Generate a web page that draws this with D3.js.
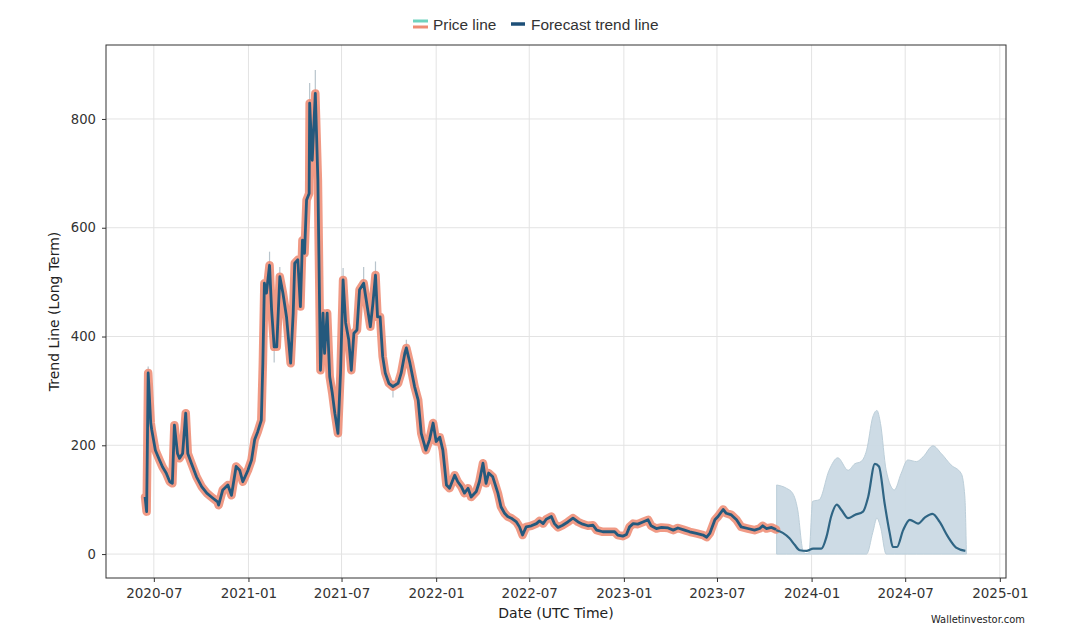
<!DOCTYPE html>
<html>
<head>
<meta charset="utf-8">
<script src="https://cdn.jsdelivr.net/npm/d3@7"></script>
<style>
  html, body { margin: 0; padding: 0; background: #fff; }
  svg { display: block; font-family: "DejaVu Sans", sans-serif; }
</style>
</head>
<body>
<svg id="chart" width="1066" height="634"></svg>
<script>
// ---------- DATA ----------
const priceDates = ["2020-06-14","2020-06-17","2020-06-20","2020-06-25","2020-06-27","2020-07-04","2020-07-12","2020-07-18","2020-07-25","2020-08-01","2020-08-06","2020-08-10","2020-08-16","2020-08-20","2020-08-26","2020-09-01","2020-09-05","2020-09-12","2020-09-22","2020-10-02","2020-10-12","2020-10-21","2020-11-02","2020-11-04","2020-11-12","2020-11-22","2020-11-29","2020-12-08","2020-12-15","2020-12-21","2020-12-31","2021-01-07","2021-01-13","2021-01-19","2021-01-26","2021-01-29","2021-02-01","2021-02-05","2021-02-11","2021-02-15","2021-02-20","2021-02-25","2021-03-03","2021-03-09","2021-03-16","2021-03-24","2021-03-29","2021-04-01","2021-04-07","2021-04-12","2021-04-16","2021-04-20","2021-04-24","2021-04-29","2021-04-30","2021-05-05","2021-05-11","2021-05-16","2021-05-21","2021-05-26","2021-05-29","2021-06-03","2021-06-08","2021-06-13","2021-06-18","2021-06-24","2021-06-29","2021-07-04","2021-07-09","2021-07-15","2021-07-20","2021-07-25","2021-07-31","2021-08-05","2021-08-13","2021-08-18","2021-08-26","2021-08-31","2021-09-05","2021-09-09","2021-09-14","2021-09-19","2021-09-24","2021-10-01","2021-10-09","2021-10-19","2021-10-25","2021-11-01","2021-11-04","2021-11-11","2021-11-20","2021-11-27","2021-12-03","2021-12-12","2021-12-19","2021-12-26","2022-01-01","2022-01-08","2022-01-14","2022-01-21","2022-01-27","2022-02-06","2022-02-12","2022-02-19","2022-02-25","2022-03-04","2022-03-10","2022-03-20","2022-03-26","2022-04-02","2022-04-08","2022-04-13","2022-04-21","2022-05-01","2022-05-07","2022-05-14","2022-05-20","2022-05-27","2022-06-06","2022-06-12","2022-06-18","2022-06-25","2022-07-05","2022-07-15","2022-07-21","2022-07-28","2022-08-03","2022-08-13","2022-08-19","2022-08-26","2022-09-04","2022-09-14","2022-09-24","2022-10-04","2022-10-13","2022-10-23","2022-11-02","2022-11-09","2022-11-21","2022-12-04","2022-12-14","2022-12-20","2022-12-30","2023-01-06","2023-01-12","2023-01-19","2023-01-28","2023-02-07","2023-02-17","2023-02-23","2023-03-05","2023-03-15","2023-03-28","2023-04-07","2023-04-16","2023-04-29","2023-05-09","2023-05-22","2023-06-04","2023-06-11","2023-06-17","2023-06-27","2023-07-03","2023-07-13","2023-07-19","2023-07-29","2023-08-08","2023-08-17","2023-08-30","2023-09-12","2023-09-22","2023-09-28","2023-10-05","2023-10-15","2023-10-24"];
const priceValues = [105,78,333,241,228,191,173,160,149,133,130,237,185,176,185,259,185,167,142,124,112,105,96,90,118,127,108,161,154,133,154,173,210,225,246,351,498,480,531,449,381,381,510,480,436,351,443,535,541,455,577,553,651,663,829,724,847,688,338,443,369,443,326,296,259,222,333,504,425,394,338,406,412,486,498,467,418,461,513,436,436,363,333,314,308,314,333,369,379,351,308,283,222,191,210,241,207,215,191,127,121,145,133,124,112,121,105,115,133,167,130,149,142,112,87,75,69,66,59,50,35,50,52,56,61,56,64,69,56,49,53,59,66,59,55,52,53,44,41,41,41,35,33,36,50,56,55,59,63,52,47,49,48,44,48,44,41,38,35,31,38,63,69,82,75,72,63,50,47,44,47,52,47,49,45];

// thin high/low wicks: [date, low, high]
const wickDates = ["2020-06-20","2021-02-11","2021-03-03","2021-04-30","2021-05-11","2021-07-04","2021-08-13","2021-09-05","2021-11-04","2021-10-09","2021-02-20"];
const wickLows  = [300,500,470,790,800,470,470,480,350,288,352];
const wickHighs = [345,556,528,866,890,526,528,538,394,320,390];

const forecastDates = ["2023-10-24","2023-11-06","2023-11-19","2023-11-29","2023-12-09","2023-12-22","2024-01-04","2024-01-20","2024-01-30","2024-02-08","2024-02-19","2024-02-28","2024-03-12","2024-03-25","2024-04-10","2024-04-20","2024-05-03","2024-05-11","2024-05-22","2024-06-01","2024-06-07","2024-06-15","2024-06-27","2024-07-10","2024-07-26","2024-08-08","2024-08-23","2024-09-06","2024-09-22","2024-10-08","2024-10-26"];
const forecastValues = [44,39,29,17,7,6,10,10,32,69,91,81,66,72,78,105,166,161,93,38,13,13,44,63,56,67,74,59,32,12,6];

const bandDates = ["2023-10-25","2023-11-13","2023-11-25","2023-12-05","2023-12-15","2023-12-20","2023-12-27","2024-01-03","2024-01-16","2024-02-04","2024-02-21","2024-03-12","2024-03-25","2024-04-06","2024-04-17","2024-04-29","2024-05-07","2024-05-14","2024-05-25","2024-06-10","2024-06-23","2024-07-06","2024-07-23","2024-08-05","2024-08-24","2024-09-09","2024-09-28","2024-10-18","2024-10-25","2024-10-28"];
const bandLower = [0,0,0,0,0,0,0,0,0,0,0,0,0,0,0,40,66,50,0,0,0,0,0,0,0,0,0,0,0,0];
const bandUpper = [127,121,112,81,7,1,2,97,100,154,177,154,166,170,191,252,264,240,154,118,148,173,170,179,199,185,164,148,105,0];

const yTicks = [0,200,400,600,800];
const legendLabels = ["Price line","Forecast trend line"];

// ---------- SETUP ----------
const W = 1066, H = 634;
const M = {left:106, top:45, right:1006, bottom:578};
const parse = d3.utcParse("%Y-%m-%d");

const x = d3.scaleUtc()
  .domain([parse("2020-03-30"), parse("2025-01-13")])
  .range([M.left, M.right]);
const y = d3.scaleLinear().domain([-44, 936]).range([M.bottom, M.top]);

const svg = d3.select("#chart");

const price = priceDates.map((d,i)=>({date:parse(d), v:priceValues[i]}));
const forecast = forecastDates.map((d,i)=>({date:parse(d), v:forecastValues[i]}));
const band = bandDates.map((d,i)=>({date:parse(d), lo:bandLower[i], hi:bandUpper[i]}));
const wicks = wickDates.map((d,i)=>({date:parse(d), lo:wickLows[i], hi:wickHighs[i]}));

const xTicks = d3.utcMonth.every(6).range(x.domain()[0], x.domain()[1]);

// grid
const grid = svg.append("g");
grid.selectAll("line.gx").data(xTicks).join("line")
  .attr("x1", d=>x(d)).attr("x2", d=>x(d))
  .attr("y1", M.top).attr("y2", M.bottom)
  .attr("stroke", "#e3e3e3").attr("stroke-width", 1);
grid.selectAll("line.gy").data(yTicks).join("line")
  .attr("x1", M.left).attr("x2", M.right)
  .attr("y1", d=>y(d)).attr("y2", d=>y(d))
  .attr("stroke", "#e3e3e3").attr("stroke-width", 1);

// confidence band
svg.append("path").datum(band)
  .attr("d", d3.area().x(d=>x(d.date)).y0(d=>y(d.lo)).y1(d=>y(d.hi)).curve(d3.curveMonotoneX))
  .attr("fill", "#cbdae4").attr("stroke", "#b9ccd8").attr("stroke-width", 1).attr("opacity", 0.95);

// wicks
svg.append("g").selectAll("line").data(wicks).join("line")
  .attr("x1", d=>x(d.date)).attr("x2", d=>x(d.date))
  .attr("y1", d=>y(d.lo)).attr("y2", d=>y(d.hi))
  .attr("stroke", "#b8c4cc").attr("stroke-width", 1.2);

const line = d3.line().x(d=>x(d.date)).y(d=>y(d.v));

// price underlay
svg.append("path").datum(price)
  .attr("d", line)
  .attr("fill","none").attr("stroke","#ee8c74").attr("stroke-width",8.5)
  .attr("stroke-linejoin","round").attr("stroke-linecap","round").attr("opacity",0.88);
// price line
svg.append("path").datum(price)
  .attr("d", line)
  .attr("fill","none").attr("stroke","#24597d").attr("stroke-width",2.8)
  .attr("stroke-linejoin","round");

// forecast line
svg.append("path").datum(forecast)
  .attr("d", d3.line().x(d=>x(d.date)).y(d=>y(d.v)).curve(d3.curveMonotoneX))
  .attr("fill","none").attr("stroke","#2f6584").attr("stroke-width",2.2);

// frame
svg.append("rect").attr("x", M.left).attr("y", M.top)
  .attr("width", M.right-M.left).attr("height", M.bottom-M.top)
  .attr("fill","none").attr("stroke","#333").attr("stroke-width",1);

// axes
const xAxis = svg.append("g").attr("transform", `translate(0,${M.bottom})`)
  .call(d3.axisBottom(x).tickValues(xTicks).tickFormat(d3.utcFormat("%Y-%m")).tickSize(4).tickPadding(6));
const yAxis = svg.append("g").attr("transform", `translate(${M.left},0)`)
  .call(d3.axisLeft(y).tickValues(yTicks).tickSize(4).tickPadding(6));
[xAxis, yAxis].forEach(a=>{
  a.select(".domain").remove();
  a.selectAll(".tick line").attr("stroke","#333");
  a.selectAll(".tick text").attr("fill","#333").style("font-family","DejaVu Sans, sans-serif");
});
xAxis.selectAll(".tick text").style("font-size","13.5px");
yAxis.selectAll(".tick text").style("font-size","13.2px");

// axis labels
svg.append("text").attr("x", 556).attr("y", 618).attr("text-anchor","middle")
  .style("font-size","14px").attr("fill","#222").text("Date (UTC Time)");
svg.append("text").attr("transform", `translate(59,${(M.top+M.bottom)/2}) rotate(-90)`)
  .attr("text-anchor","middle").style("font-size","14px").attr("fill","#222").text("Trend Line (Long Term)");

// watermark
svg.append("text").attr("x", 1025).attr("y", 623).attr("text-anchor","end")
  .style("font-family","'Liberation Sans Narrow', 'DejaVu Sans Condensed', sans-serif").style("font-size","11px")
  .attr("fill","#222").text("Walletinvestor.com");

// legend
const lg = svg.append("g");
lg.append("line").attr("x1",413).attr("x2",428).attr("y1",21).attr("y2",21).attr("stroke","#6ed3bf").attr("stroke-width",3);
lg.append("line").attr("x1",413).attr("x2",428).attr("y1",27).attr("y2",27).attr("stroke","#ee8c74").attr("stroke-width",3);
lg.append("text").attr("x",433).attr("y",29.5).style("font-size","15.4px").attr("fill","#333")
  .style("font-family","'Liberation Sans', Arial, sans-serif").text(legendLabels[0]);
lg.append("line").attr("x1",511).attr("x2",525).attr("y1",24).attr("y2",24).attr("stroke","#1d4f78").attr("stroke-width",3.5);
lg.append("text").attr("x",531).attr("y",29.5).style("font-size","15.4px").attr("fill","#333")
  .style("font-family","'Liberation Sans', Arial, sans-serif").text(legendLabels[1]);
</script>
</body>
</html>
